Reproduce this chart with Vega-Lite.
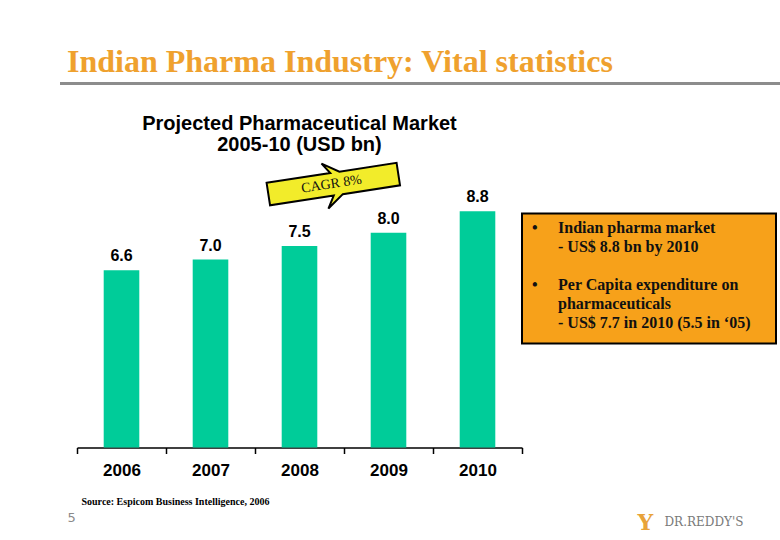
{
  "$schema": "https://vega.github.io/schema/vega-lite/v6.json",
  "background": "white",
  "padding": {"left": 60, "top": 46, "right": 0, "bottom": 0},
  "bounds": "flush",
  "spacing": 128.5,
  "config": {"view": {"stroke": null}},
  "datasets": {
    "market": [
      {"year": "2006", "value": 6.6},
      {"year": "2007", "value": 7.0},
      {"year": "2008", "value": 7.5},
      {"year": "2009", "value": 8.0},
      {"year": "2010", "value": 8.8}
    ],
    "cagr": [{"year": "2008", "v": 9.81, "label": "CAGR 8%"}],
    "notes": [
      {"line": 0, "kind": "bullet", "text": "•"},
      {"line": 0, "kind": "text", "text": "Indian pharma market"},
      {"line": 1, "kind": "text", "text": "- US$ 8.8 bn by 2010"},
      {"line": 3, "kind": "bullet", "text": "•"},
      {"line": 3, "kind": "text", "text": "Per Capita expenditure on"},
      {"line": 4, "kind": "text", "text": "pharmaceuticals"},
      {"line": 5, "kind": "text", "text": "- US$ 7.7 in 2010 (5.5 in ‘05)"}
    ]
  },
  "vconcat": [
    {
      "title": {
        "text": "Indian Pharma Industry: Vital statistics",
        "anchor": "start",
        "font": "Liberation Serif",
        "fontSize": 32,
        "fontWeight": "bold",
        "color": "#EFA12E",
        "offset": 3,
        "dx": 7
      },
      "data": {"values": []},
      "mark": "text",
      "encoding": {},
      "width": 720,
      "height": 3,
      "view": {"fill": "#8c8c8c", "stroke": null}
    },
    {
      "bounds": "flush",
      "spacing": 0,
      "hconcat": [
        {
          "data": {"values": []},
          "mark": "text",
          "encoding": {},
          "width": 17,
          "height": 1
        },
        {
          "width": 445,
          "height": 234,
          "title": {
            "text": ["Projected Pharmaceutical Market", "2005-10 (USD bn)"],
            "font": "Liberation Sans",
            "fontSize": 20,
            "fontWeight": "bold",
            "color": "black",
            "anchor": "middle",
            "offset": 4,
            "lineHeight": 21
          },
          "data": {"name": "market"},
          "encoding": {
            "x": {
              "field": "year",
              "type": "nominal",
              "scale": {"paddingInner": 0, "paddingOuter": 0},
              "axis": {
                "orient": "bottom",
                "tickBand": "extent",
                "tickSize": 6,
                "tickWidth": 1.5,
                "tickColor": "black",
                "domainColor": "black",
                "domainWidth": 1.5,
                "grid": false,
                "labelAngle": 0,
                "labelFont": "Liberation Sans",
                "labelFontSize": 17,
                "labelFontWeight": "bold",
                "labelColor": "black",
                "labelPadding": 9,
                "title": "Source: Espicom Business Intelligence, 2006",
                "titleX": 4,
                "titleY": 54,
                "titleAlign": "left",
                "titleBaseline": "middle",
                "titleFont": "Liberation Serif",
                "titleFontSize": 10,
                "titleFontWeight": "bold",
                "titleColor": "black"
              }
            }
          },
          "layer": [
            {
              "mark": {"type": "bar", "color": "#00CC99", "width": {"band": 0.4}},
              "encoding": {
                "y": {
                  "field": "value",
                  "type": "quantitative",
                  "scale": {"domain": [0, 8.715], "nice": false, "zero": true},
                  "axis": {
                    "orient": "left",
                    "labels": false,
                    "ticks": false,
                    "domain": false,
                    "grid": false,
                    "title": "5",
                    "titleAngle": 0,
                    "titleX": -10,
                    "titleY": 304,
                    "titleAlign": "left",
                    "titleBaseline": "middle",
                    "titleFont": "DejaVu Sans",
                    "titleFontSize": 13,
                    "titleFontWeight": "normal",
                    "titleColor": "#8a8a8a"
                  }
                }
              }
            },
            {
              "mark": {
                "type": "text",
                "dy": -9,
                "baseline": "alphabetic",
                "font": "Liberation Sans",
                "fontSize": 16,
                "fontWeight": "bold",
                "color": "black"
              },
              "encoding": {
                "y": {"field": "value", "type": "quantitative"},
                "text": {"field": "value", "type": "quantitative", "format": ".1f"}
              }
            },
            {
              "data": {"name": "cagr"},
              "mark": {
                "type": "point",
                "shape": "M-1,-0.173 L-0.02,-0.173 L-0.13,-0.336 L0.12,-0.173 L1,-0.173 L1,0.173 L0.12,0.173 L-0.13,0.356 L-0.02,0.173 L-1,0.173 Z",
                "size": 17292,
                "angle": -8.75,
                "filled": true,
                "fill": "#F2EC2A",
                "stroke": "black",
                "strokeWidth": 2,
                "opacity": 1,
                "fillOpacity": 1,
                "strokeOpacity": 1
              },
              "encoding": {
                "x": {"field": "year", "type": "nominal", "bandPosition": 0.88},
                "y": {"field": "v", "type": "quantitative"}
              }
            },
            {
              "data": {"name": "cagr"},
              "mark": {
                "type": "text",
                "angle": -8.75,
                "align": "center",
                "baseline": "middle",
                "font": "Liberation Serif",
                "fontSize": 14,
                "color": "#111111"
              },
              "encoding": {
                "x": {"field": "year", "type": "nominal", "bandPosition": 0.86},
                "y": {"field": "v", "type": "quantitative"},
                "text": {"field": "label"}
              }
            }
          ]
        },
        {
          "width": 254,
          "height": 130,
          "view": {"fill": "#F7A11A", "stroke": "black", "strokeWidth": 2},
          "data": {"name": "notes"},
          "mark": {
            "type": "text",
            "align": "left",
            "baseline": "middle",
            "font": "Liberation Serif",
            "fontSize": 16,
            "fontWeight": "bold",
            "color": "#111111"
          },
          "encoding": {
            "x": {
              "field": "kind",
              "type": "nominal",
              "scale": {"type": "point", "padding": 0, "domain": ["bullet", "text"], "range": [10, 36]},
              "axis": {
                "orient": "bottom",
                "labels": false,
                "ticks": false,
                "domain": false,
                "grid": false,
                "title": "DR.REDDY'S",
                "titleX": 142,
                "titleY": 178,
                "titleAlign": "left",
                "titleBaseline": "middle",
                "titleFont": "DejaVu Serif",
                "titleFontSize": 12,
                "titleFontWeight": "normal",
                "titleColor": "#7a7a7a"
              }
            },
            "y": {
              "field": "line",
              "type": "quantitative",
              "scale": {"domain": [0, 5], "range": [14, 109]},
              "axis": {
                "orient": "left",
                "labels": false,
                "ticks": false,
                "domain": false,
                "grid": false,
                "title": "Y",
                "titleAngle": 0,
                "titleX": 115,
                "titleY": 309,
                "titleAlign": "left",
                "titleBaseline": "middle",
                "titleFont": "DejaVu Serif",
                "titleFontSize": 22,
                "titleFontWeight": "bold",
                "titleColor": "#E8A33A"
              }
            },
            "text": {"field": "text"}
          }
        }
      ]
    }
  ]
}
